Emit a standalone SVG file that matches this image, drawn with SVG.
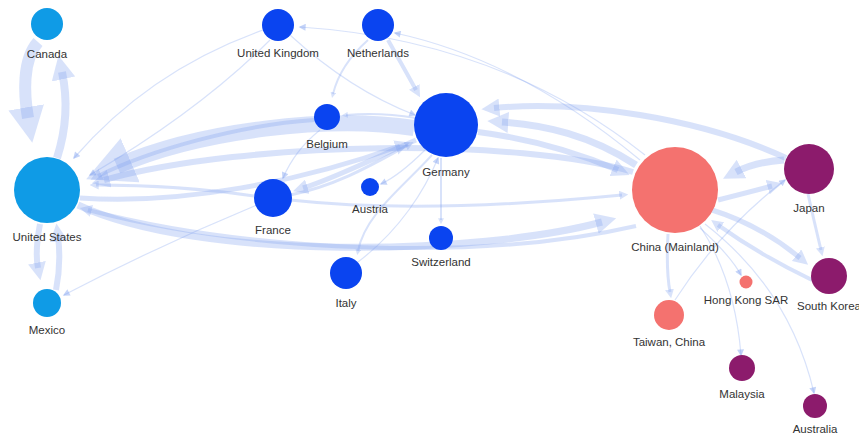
<svg xmlns="http://www.w3.org/2000/svg" width="859" height="438" viewBox="0 0 859 438">
  <defs>
    <style>
      .e { fill: none; stroke: #7f9ff0; stroke-opacity: 0.3; }
      .t { stroke-width: 1.2; marker-end: url(#ah-thin); }
      .b { marker-end: url(#ah); }
      .lbl { font-family: "Liberation Sans", Arial, sans-serif; font-size: 11.5px; fill: #333; text-anchor: middle; }
      .na { fill: #0f9be6; }
      .eu { fill: #0a44f0; }
      .cn { fill: #f4726f; }
      .ap { fill: #8c1b6c; }
    </style>
    <!-- arrowhead scaled by stroke width -->
    <marker id="ah" viewBox="0 0 10 10" refX="3" refY="5" markerWidth="3" markerHeight="3" orient="auto">
      <path d="M0,0 L10,5 L0,10 z" fill="#7f9ff0" fill-opacity="0.3"/>
    </marker>
    <!-- fixed-size arrowhead for hairline flows -->
    <marker id="ah-thin" viewBox="0 0 10 10" refX="8" refY="5" markerWidth="8" markerHeight="7" markerUnits="userSpaceOnUse" orient="auto">
      <path d="M0,0 L10,5 L0,10 z" fill="#7f9ff0" fill-opacity="0.45"/>
    </marker>
  </defs>

  <rect width="859" height="438" fill="#ffffff"/>

  <g id="connectors">
    <!-- North America -->
    <path class="e b" stroke-width="12" d="M38,42 C22,60 24,95 28,118"/>
    <path class="e b" stroke-width="8" d="M57,158 C66,130 68,100 62,72"/>
    <path class="e b" stroke-width="6" d="M40,224 C36,245 36,258 38,268"/>
    <path class="e b" stroke-width="6" d="M56,290 C60,270 60,252 58,236"/>
    <path class="e t" d="M257,205 Q160,245 64,295"/>
    <path class="e t" d="M263,30 Q150,70 74,158"/>
    <path class="e t" d="M270,40 Q200,110 90,175"/>

    <!-- flows into / out of the United States -->
    <path class="e b" stroke-width="16" d="M414,128 C330,115 200,130 117,166"/>
    <path class="e b" stroke-width="4" d="M314,120 C240,125 150,150 98,176"/>
    <path class="e b" stroke-width="6" d="M633,172 C520,138 250,140 104,180"/>
    <path class="e b" stroke-width="3" d="M254,196 C200,188 140,185 96,185"/>
    <path class="e b" stroke-width="5" d="M80,198 C180,205 300,182 400,146"/>
    <path class="e b" stroke-width="7" d="M78,205 C200,262 480,255 602,222"/>
    <path class="e b" stroke-width="4" d="M636,226 C480,262 250,252 88,210"/>

    <!-- Europe and China -->
    <path class="e b" stroke-width="6" d="M478,132 C540,140 590,158 618,170"/>
    <path class="e b" stroke-width="7" d="M636,165 C590,135 545,125 502,122"/>
    <path class="e b" stroke-width="6" d="M786,158 C700,118 580,100 494,108"/>
    <path class="e b" stroke-width="3" d="M290,200 C400,212 520,205 622,195"/>
    <path class="e t" d="M645,155 Q500,40 300,27"/>
    <path class="e t" d="M640,160 Q520,60 395,33"/>

    <!-- within Europe -->
    <path class="e b" stroke-width="4" d="M388,40 Q405,70 416,90"/>
    <path class="e b" stroke-width="2" d="M368,40 Q340,65 333,94"/>
    <path class="e t" d="M290,35 Q350,90 415,115"/>
    <path class="e b" stroke-width="5" d="M416,140 C370,160 335,178 303,188"/>
    <path class="e b" stroke-width="2" d="M416,118 Q380,112 346,115"/>
    <path class="e t" d="M320,130 Q295,150 283,178"/>
    <path class="e t" d="M425,150 Q400,175 381,184"/>
    <path class="e b" stroke-width="2" d="M441,158 L441,220"/>
    <path class="e b" stroke-width="2" d="M432,155 C400,190 365,215 358,251"/>
    <path class="e t" d="M358,262 C400,230 425,190 438,158"/>
    <path class="e b" stroke-width="3" d="M290,195 C340,185 380,160 408,145"/>

    <!-- East Asia -->
    <path class="e b" stroke-width="7" d="M784,160 Q755,162 736,172"/>
    <path class="e b" stroke-width="5" d="M718,200 Q750,192 772,186"/>
    <path class="e b" stroke-width="3" d="M808,194 Q815,225 821,250"/>
    <path class="e b" stroke-width="5" d="M712,210 Q760,225 800,258"/>
    <path class="e b" stroke-width="4" d="M812,280 Q760,255 718,225"/>
    <path class="e b" stroke-width="3" d="M668,234 Q666,270 670,292"/>
    <path class="e t" d="M675,300 Q720,230 785,180"/>
    <path class="e t" d="M700,226 Q735,280 741,355"/>
    <path class="e t" d="M705,224 Q790,290 814,393"/>
    <path class="e t" d="M700,228 Q730,255 741,275"/>
  </g>

  <g id="node-canada"><circle class="na" cx="47" cy="24" r="16"/><text class="lbl" x="47" y="58">Canada</text></g>
  <g id="node-united-states"><circle class="na" cx="47" cy="190" r="33"/><text class="lbl" x="47" y="241">United States</text></g>
  <g id="node-mexico"><circle class="na" cx="47" cy="303" r="14"/><text class="lbl" x="47" y="334">Mexico</text></g>

  <g id="node-united-kingdom"><circle class="eu" cx="278" cy="25" r="16"/><text class="lbl" x="278" y="57">United Kingdom</text></g>
  <g id="node-netherlands"><circle class="eu" cx="378" cy="25" r="16"/><text class="lbl" x="378" y="57">Netherlands</text></g>
  <g id="node-belgium"><circle class="eu" cx="327" cy="117" r="13"/><text class="lbl" x="327" y="148">Belgium</text></g>
  <g id="node-germany"><circle class="eu" cx="446" cy="125" r="32"/><text class="lbl" x="446" y="176">Germany</text></g>
  <g id="node-france"><circle class="eu" cx="273" cy="198" r="19"/><text class="lbl" x="273" y="234">France</text></g>
  <g id="node-austria"><circle class="eu" cx="370" cy="187" r="9"/><text class="lbl" x="370" y="213">Austria</text></g>
  <g id="node-switzerland"><circle class="eu" cx="441" cy="238" r="12"/><text class="lbl" x="441" y="266">Switzerland</text></g>
  <g id="node-italy"><circle class="eu" cx="346" cy="273" r="16"/><text class="lbl" x="346" y="307">Italy</text></g>

  <g id="node-china"><circle class="cn" cx="675" cy="190" r="43"/><text class="lbl" x="675" y="251">China (Mainland)</text></g>
  <g id="node-hong-kong"><circle class="cn" cx="746" cy="282" r="6.5"/><text class="lbl" x="746" y="304">Hong Kong SAR</text></g>
  <g id="node-taiwan"><circle class="cn" cx="669" cy="315" r="15"/><text class="lbl" x="669" y="346">Taiwan, China</text></g>

  <g id="node-japan"><circle class="ap" cx="809" cy="169" r="25"/><text class="lbl" x="809" y="212">Japan</text></g>
  <g id="node-south-korea"><circle class="ap" cx="829" cy="276" r="18"/><text class="lbl" x="829" y="310">South Korea</text></g>
  <g id="node-malaysia"><circle class="ap" cx="742" cy="368" r="13"/><text class="lbl" x="742" y="398">Malaysia</text></g>
  <g id="node-australia"><circle class="ap" cx="815" cy="406" r="12"/><text class="lbl" x="815" y="433">Australia</text></g>
</svg>
